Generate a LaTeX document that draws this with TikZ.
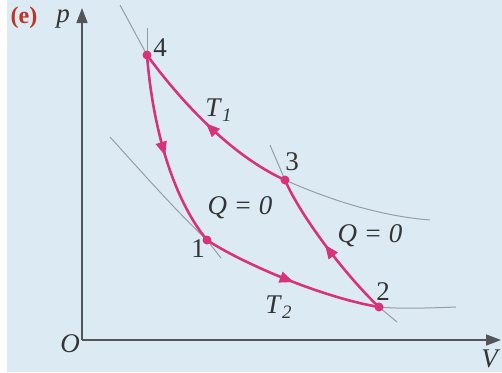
\documentclass[tikz,border=0pt]{standalone}
\usepackage{fontspec}
\setmainfont{Liberation Serif}
\usetikzlibrary{arrows.meta, decorations.markings}

\definecolor{bgblue}{RGB}{220,235,243}
\definecolor{cyc}{RGB}{214,51,122}
\definecolor{guidegray}{RGB}{150,158,164}
\definecolor{axis}{RGB}{82,86,90}
\definecolor{tag}{RGB}{190,52,40}
\definecolor{txt}{RGB}{52,52,52}

\begin{document}
\begin{tikzpicture}[
  % one unit = one pixel of the 502x372 frame, y pointing down
  x=0.5pt, y=-0.5pt, font=\fontsize{13.5}{16}\selectfont,
  ax/.style={-{Triangle[length=7.5pt, width=5.5pt]}, line width=0.8pt, axis},
  guide/.style={draw=guidegray, line width=0.5pt},
  leg/.style={cyc, line width=1.3pt, postaction={decorate},
    decoration={markings, mark=at position #1 with {\arrow{Triangle[length=7pt, width=5.5pt]}}}},
  dot/.style={circle, fill=cyc, inner sep=0pt, minimum size=4.5pt},
  lbl/.style={text=txt, inner sep=0pt},
]
\useasboundingbox (0,0) rectangle (502,372);
\fill[bgblue] (7,0) rectangle (502,372);
% axes
\coordinate (orig) at (82,340);
\coordinate (ptop) at (82,8);
\coordinate (vend) at (501,340);
\draw[ax] (orig) -- (ptop);
\draw[ax] (orig) -- (vend);
\node[lbl] (olbl) at (70,344) {\textit{O}};
\node[lbl] (vlbl) at (491,359) {\textit{V}};
\node[lbl] (plbl) at (63,19) {\textit{p}};
\node[text=tag, inner sep=0pt] (panel) at (24,18) {\fontsize{12}{14}\selectfont\textbf{(e)}};
% states
\coordinate (s4) at (147,55);
\coordinate (s3) at (285,180);
\coordinate (s1) at (207,240);
\coordinate (s2) at (379,307);
% grey continuations of the isotherms and adiabats
\coordinate (t1a) at (120,5);
\coordinate (t1b) at (430,220);
\coordinate (t2a) at (110,137);
\coordinate (t2b) at (456,307);
\coordinate (a4) at (147,28);
\coordinate (a3) at (270,145);
\coordinate (a1) at (221,258);
\coordinate (a2) at (397,322);
\draw[guide] (t1a) -- (s4);
\draw[guide] (s3) .. controls (330,200) and (380,216) .. (t1b);
\draw[guide] (t2a) .. controls (140,170) and (175,210) .. (s1);
\draw[guide] (s2) .. controls (400,309) and (430,308) .. (t2b);
\draw[guide] (a4) -- (s4);
\draw[guide] (a3) -- (s3);
\draw[guide] (s1) -- (a1);
\draw[guide] (s2) -- (a2);
% the cycle
\draw[leg=0.52] (s4) .. controls (152,120) and (170,195) .. (s1);
\draw[leg=0.52] (s1) .. controls (240,262) and (320,297) .. (s2);
\draw[leg=0.52] (s2) .. controls (345,275) and (300,215) .. (s3);
\draw[leg=0.52] (s3) .. controls (230,155) and (180,100) .. (s4);
\foreach \s in {s1,s2,s3,s4} \node[dot] at (\s) {};
% labels
\node[lbl] (n4) at (160,48) {4};
\node[lbl] (n3) at (292,162) {3};
\node[lbl] (n1) at (198,249) {1};
\node[lbl] (n2) at (383,292) {2};
\node[lbl] (hot) at (219,110) {\textit{T}\textsubscript{\textit{1}}};
\node[lbl] (cold) at (279,307) {\textit{T}\textsubscript{\textit{2}}};
\node[lbl] (q41) at (240,208) {\textit{Q = 0}};
\node[lbl] (q23) at (370,236) {\textit{Q = 0}};
\end{tikzpicture}
\end{document}
